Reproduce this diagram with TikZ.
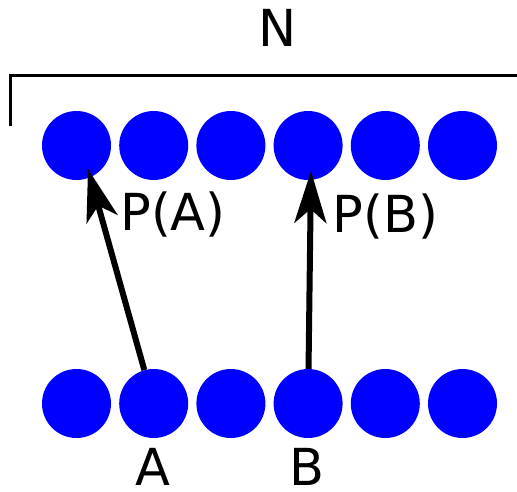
\documentclass[tikz,border=0pt]{standalone}
\usepackage{fontspec}
\setmainfont{DejaVu Sans}
\usetikzlibrary{arrows.meta}
\definecolor{dotblue}{RGB}{0,0,255}
\begin{document}
\begin{tikzpicture}[x=1pt,y=-1pt,
  dot/.style={circle,fill=dotblue,draw=none,minimum size=69pt,inner sep=0pt},
  lbl/.style={inner sep=0pt,anchor=base,font=\fontsize{51}{60}\selectfont},
  arr/.style={line width=6pt,-{Stealth[length=52pt,width=32pt,inset=14pt]}},
  bracket/.style={line width=3pt}]
\useasboundingbox (0,0) rectangle (517,491);
\foreach \i in {1,...,6}{
  \node[dot] (t\i) at ({76.5+(\i-1)*77.2},145.5) {};
  \node[dot] (b\i) at ({76.5+(\i-1)*77.2},403.5) {};
}
\draw[bracket] (10,126) -- (10,75) -- (517,75);
\node[lbl] (n) at (277.5,46) {N};
\coordinate (pa) at (88,169);
\coordinate (pb) at (311,171);
\draw[arr] (b2) -- (pa);
\draw[arr] (b4) -- (pb);
\node[lbl] (lpa) at (173,230) {P(A)};
\node[lbl] (lpb) at (385.5,232) {P(B)};
\node[lbl,text depth=0pt] (la) at (152.5,485) {A};
\node[lbl,text depth=0pt] (lb) at (307,485) {B};
\end{tikzpicture}
\end{document}
